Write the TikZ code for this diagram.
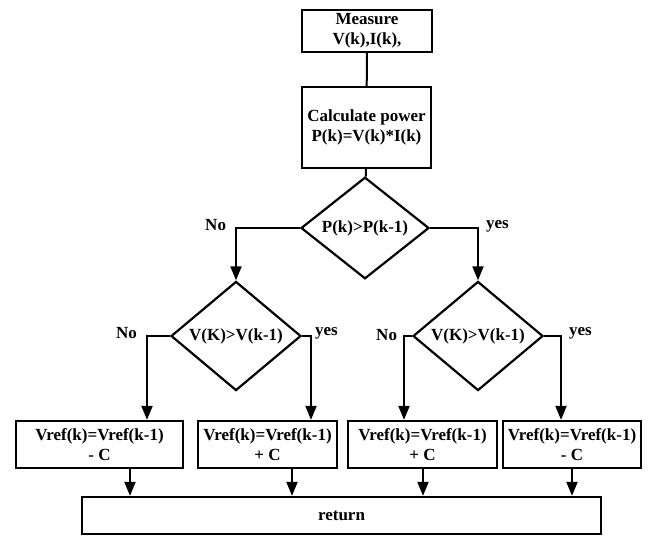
\documentclass[tikz,border=0pt]{standalone}
\usepackage{fontspec}
\setmainfont{Liberation Serif}
\usetikzlibrary{shapes.geometric,arrows.meta}

\tikzset{
	blk/.style={draw, line width=2.3pt, inner sep=0pt, align=center},
	dec/.style={draw, diamond, line width=2.2pt, inner sep=0pt},
	arr/.style={-{Triangle[length=14pt,width=11pt]}},
	lbl/.style={inner sep=0pt}
}

\begin{document}
\begin{tikzpicture}[x=1pt,y=-1pt,line width=2pt,font=\fontsize{17}{20}\selectfont\bfseries]
	\useasboundingbox (0,0) rectangle (652,536);
	\node[blk, minimum width=130pt, minimum height=42pt] (meas) at (367,31) {Measure\\V(k),I(k),};
	\node[blk, minimum width=129pt, minimum height=81pt] (calc) at (366.5,127.5) {Calculate power\\P(k)=V(k)*I(k)};
	\node[dec, minimum width=128pt, minimum height=88pt] (d1) at (365,228) {P(k)>P(k-1)};
	\node[dec, minimum width=130pt, minimum height=95pt] (d2) at (236,336) {V(K)>V(k-1)};
	\node[dec, minimum width=130pt, minimum height=97pt] (d3) at (478,336) {V(K)>V(k-1)};
	\node[blk, minimum width=167pt, minimum height=47pt] (b1) at (99.5,444.5) {Vref(k)=Vref(k-1)\\- C};
	\node[blk, minimum width=139pt, minimum height=47pt] (b2) at (267.5,444.5) {Vref(k)=Vref(k-1)\\+ C};
	\node[blk, minimum width=149pt, minimum height=47pt] (b3) at (422.5,444.5) {Vref(k)=Vref(k-1)\\+ C};
	\node[blk, minimum width=138pt, minimum height=47pt] (b4) at (572,444.5) {Vref(k)=Vref(k-1)\\- C};
	\node[blk, minimum width=519pt, minimum height=37pt] (ret) at (341.5,515.5) {return};
	% corners of the branches
	\coordinate (c2l) at (147,336);
	\coordinate (c2r) at (311,336);
	\coordinate (c3l) at (404,336);
	\coordinate (c3r) at (561,336);
	\draw (meas) -- (calc);
	\draw (calc) -- (d1);
	\draw[arr] (d1.west) -| (d2.north);
	\draw[arr] (d1.east) -| (d3.north);
	\draw[arr] (d2.west) -- (c2l) -- (c2l |- b1.north);
	\draw[arr] (d2.east) -- (c2r) -- (c2r |- b2.north);
	\draw[arr] (d3.west) -- (c3l) -- (c3l |- b3.north);
	\draw[arr] (d3.east) -- (c3r) -- (c3r |- b4.north);
	\foreach \b/\x in {b1/130, b2/292, b3/423, b4/572}
		\draw[arr] (\x,0 |- \b.south) -- (\x,0 |- ret.north);
	% branch labels
	\node[lbl, anchor=east] (n1) at (227,225) {No};
	\node[lbl, anchor=west] (y1) at (485,226) {yes};
	\node[lbl, anchor=east] (n2) at (138,333) {No};
	\node[lbl, anchor=west] (y2) at (314,333) {yes};
	\node[lbl, anchor=east] (n3) at (398,335) {No};
	\node[lbl, anchor=west] (y3) at (568,333) {yes};
\end{tikzpicture}
\end{document}
